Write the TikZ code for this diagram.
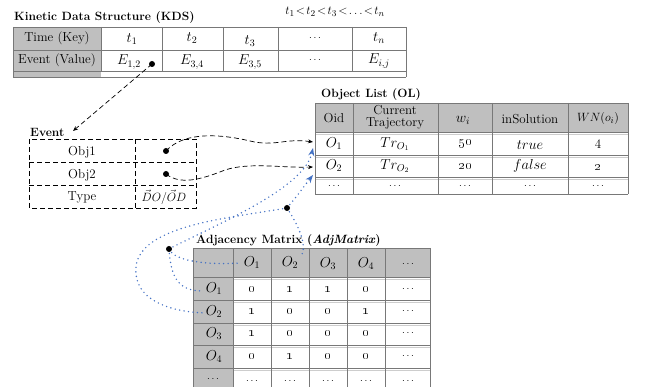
\documentclass[tikz,border=0pt]{standalone}
\usetikzlibrary{arrows.meta}
\definecolor{cellgray}{RGB}{191,191,191}
\definecolor{rulegray}{RGB}{120,120,120}
\definecolor{lightrule}{RGB}{205,205,205}
\definecolor{dotblue}{RGB}{68,114,196}
\tikzset{
  cell/.style={inner sep=0pt, font=\fontsize{13}{15}\selectfont},
  mcell/.style={inner sep=0pt, font=\fontsize{14.5}{16}\selectfont},
  ncell/.style={inner sep=0pt, font=\fontsize{15.5}{17}\selectfont},
  small/.style={inner sep=0pt, font=\fontsize{10}{12}\selectfont},
  ttl/.style={inner sep=0pt, anchor=west, font=\fontsize{12}{14}\selectfont\bfseries},
  rule/.style={draw=rulegray, line width=0.8pt},
  softrule/.style={draw=lightrule, line width=0.8pt},
  evrule/.style={draw=black, line width=0.7pt, dash pattern=on 5pt off 3pt},
  pin/.style={circle, fill=black, inner sep=0pt, minimum size=6pt},
  bluelink/.style={draw=dotblue, line width=1.6pt, dash pattern=on 0pt off 4.5pt, line cap=round},
  bluetip/.style={-{Stealth[length=8pt,width=6pt,fill=dotblue]}},
  blacklink/.style={draw=black, line width=0.7pt, dash pattern=on 5pt off 3pt, -{Stealth[length=5pt,width=4pt]}}
}
\begin{document}
\begin{tikzpicture}[x=1pt,y=-1pt]
\useasboundingbox (0,0) rectangle (646,387);

% ---------- KDS table ----------
\fill[cellgray] (13,27) rectangle (101,77);
\foreach \yy in {27,50,71,77} \draw[rule] (13,\yy) -- (406,\yy);
\foreach \xx in {13,406} \draw[rule] (\xx,27) -- (\xx,77);
\foreach \xx in {101,162,223,278,352} \draw[rule] (\xx,27) -- (\xx,71);
\node[ttl] (kdsT) at (14,18) {Kinetic Data Structure (KDS)};
\node[cell] (order) at (335,12) {$t_1\!<\!t_2\!<\!t_3\!<\!\ldots\!<\!t_n$};
\node[cell] (kTime) at (57,38) {Time (Key)};
\node[cell] (kEvent) at (57,60) {Event (Value)};
\node[mcell] (kt1) at (132,39) {$t_1$};
\node[mcell] (kt2) at (192,38) {$t_2$};
\node[mcell] (kt3) at (250,41) {$t_3$};
\node[small] (ktd) at (315,38) {$\cdots$};
\node[mcell] (ktn) at (379,38) {$t_n$};
\node[mcell] (kE12) at (129,62) {$E_{1,2}$};
\node[mcell] (kE34) at (192,62) {$E_{3,4}$};
\node[mcell] (kE35) at (250,62) {$E_{3,5}$};
\node[small] (kEd) at (315,60) {$\cdots$};
\node[mcell] (kEij) at (379,61) {$E_{i,j}$};

% ---------- Event box ----------
\draw[evrule] (29,139) rectangle (196,208);
\draw[evrule] (29,162) -- (196,162);
\draw[evrule] (29,185) -- (196,185);
\draw[evrule] (135,139) -- (135,208);
\node[ttl] (evT) at (30,132) {Event};
\node[cell] (eObj1) at (82,152) {Obj1};
\node[cell] (eObj2) at (82,175) {Obj2};
\node[cell] (eType) at (82,197) {Type};
\node[cell] (eDir) at (164,197) {$\vec{D}O/\vec{O}D$};
\coordinate (evTip) at (73,131);

% ---------- Object List ----------
\fill[cellgray] (315,103) rectangle (628,132);
\foreach \yy in {134.5,157,179} \draw[softrule] (315,\yy) -- (628,\yy);
\foreach \yy in {103,132,155,177,194} \draw[rule] (315,\yy) -- (628,\yy);
\foreach \xx in {315,353,438,492,568,628} \draw[rule] (\xx,103) -- (\xx,194);
\node[ttl] (olT) at (321,95) {Object List (OL)};
\node[cell] (oH1) at (334,118) {Oid};
\node[cell, align=center, font=\fontsize{13}{12}\selectfont] (oH2) at (395,117) {Current\\Trajectory};
\node[mcell] (oH3) at (463,120) {$w_i$};
\node[cell] (oH4) at (530,119) {inSolution};
\node[cell] (oH5) at (598,119) {$WN(o_i)$};
\node[mcell] (o11) at (334,144) {$O_1$};
\node[mcell] (o12) at (395,144) {$Tr_{O_1}$};
\node[ncell] (o13) at (465,144) {\oldstylenums{50}};
\node[mcell] (o14) at (530,145) {$true$};
\node[cell] (o15) at (598,144) {4};
\node[mcell] (o21) at (334,166) {$O_2$};
\node[mcell] (o22) at (395,166) {$Tr_{O_2}$};
\node[ncell] (o23) at (465,166) {\oldstylenums{20}};
\node[mcell] (o24) at (530,166) {$false$};
\node[ncell] (o25) at (598,167) {\oldstylenums{2}};
\foreach \xx/\nm in {334/a,395/b,465/c,530/d,598/e}
  \node[small] (o3\nm) at (\xx,186) {$\cdots$};
\coordinate (olB1) at (313,142);
\coordinate (olB2) at (313,167);
\coordinate (olA1) at (313,148);
\coordinate (olA2) at (313,175);

% ---------- Adjacency Matrix ----------
\fill[cellgray] (193,248) rectangle (430,277);
\fill[cellgray] (193,248) rectangle (233,387);
\foreach \yy in {279.5,302.5,325.5,347.5,370.5} \draw[softrule] (233,\yy) -- (430,\yy);
\foreach \yy in {248,277,300,323,345,368} \draw[rule] (193,\yy) -- (430,\yy);
\foreach \xx in {193,233,271,309,347,385,430} \draw[rule] (\xx,248) -- (\xx,387);
\node[ttl] (adjT) at (196,241) {Adjacency Matrix (\textit{AdjMatrix})};
\node[mcell] (c1) at (252,263) {$O_1$};
\node[mcell] (c2) at (290,263) {$O_2$};
\node[mcell] (c3) at (328,264) {$O_3$};
\node[mcell] (c4) at (366,264) {$O_4$};
\node[small] (c5) at (408,264) {$\cdots$};
\node[mcell] (r1) at (214,289) {$O_1$};
\node[mcell] (r2) at (214,312) {$O_2$};
\node[mcell] (r3) at (214,334) {$O_3$};
\node[mcell] (r4) at (214,357) {$O_4$};
\node[small] (r5) at (213,379) {$\cdots$};
\foreach \row/\yy/\va/\vb/\vc/\vd in {1/289/0/1/1/0, 2/311/1/0/0/1, 3/333/1/0/0/0, 4/356/0/1/0/0} {
  \node[ncell] (m\row a) at (252,\yy) {\oldstylenums{\va}};
  \node[ncell] (m\row b) at (290,\yy) {\oldstylenums{\vb}};
  \node[ncell] (m\row c) at (328,\yy) {\oldstylenums{\vc}};
  \node[ncell] (m\row d) at (366,\yy) {\oldstylenums{\vd}};
  \node[small] (m\row e) at (408,\yy) {$\cdots$};
}
\foreach \xx/\nm in {252/a,290/b,328/c,366/d,408/e}
  \node[small] (m5\nm) at (\xx,381) {$\cdots$};
\coordinate (mcol1) at (240,263);
\coordinate (mrow1) at (203,291);
\coordinate (mcol2) at (301,257);
\coordinate (mrow2) at (206,313);
\coordinate (cE) at (152,64);
\coordinate (cO1) at (166,151);
\coordinate (cO2) at (166,174);
\coordinate (cA1) at (169,249);
\coordinate (cA2) at (287,208);

% ---------- connectors ----------
\draw[blacklink] (cE) -- (evTip);
\draw[blacklink] (cO1) .. controls (185,130) and (225,135) .. (250,141)
  .. controls (275,147) and (285,138) .. (olB1);
\draw[blacklink] (cO2) .. controls (180,185) and (200,180) .. (225,170)
  .. controls (250,162) and (280,168) .. (olB2);

\draw[bluelink, bluetip] (cA1) .. controls (215,225) and (304,189) .. (olA1);
\draw[bluelink] (cA1) .. controls (171,275) and (176,291) .. (mrow1);
\draw[bluelink] (cA1) .. controls (175,262) and (210,265) .. (mcol1);
\draw[bluelink, bluetip] (cA2) .. controls (298,195) and (305,185) .. (olA2);
\draw[bluelink] (cA2) .. controls (298,225) and (308,245) .. (mcol2);
\draw[bluelink] (cA2) .. controls (230,218) and (140,225) .. (136,267)
  .. controls (133,300) and (170,312) .. (mrow2);

% ---------- pins ----------
\node[pin] (pE) at (cE) {};
\node[pin] (pO1) at (cO1) {};
\node[pin] (pO2) at (cO2) {};
\node[pin] (pA1) at (cA1) {};
\node[pin] (pA2) at (cA2) {};
\end{tikzpicture}
\end{document}
